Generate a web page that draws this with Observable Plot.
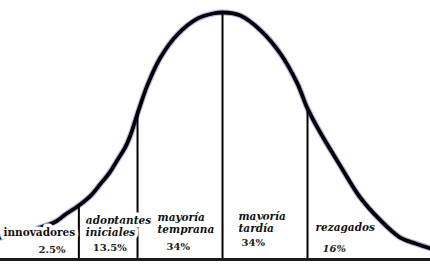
<!DOCTYPE html>
<html><head><meta charset="utf-8">
<script src="https://cdn.jsdelivr.net/npm/d3@7"></script>
<script src="https://cdn.jsdelivr.net/npm/@observablehq/plot@0.6"></script>
<style>html,body{margin:0;padding:0;background:#fff;overflow:hidden}</style>
</head><body><div id="chart"></div>
<script>
// Adoption curve: t in standard deviations from the mean, density as % of peak
const curveT = [-2.61,-2.47,-2.32,-2.14,-1.96,-1.85,-1.69,-1.55,-1.44,-1.32,-1.24,-1.14,-1.08,-1.00,-0.88,-0.73,-0.53,-0.29,-0.11,0,0.21,0.45,0.68,0.88,1.00,1.15,1.39,1.62,1.86,2.09,2.27,2.45];
const curveD = [8.9,10.1,11.3,13.0,15.4,18.2,21.9,25.9,30.4,35.6,40.1,45.7,50.6,59.1,70.9,81.8,91.1,97.6,99.6,100,98.8,92.7,83.4,71.3,61.1,51.4,37.7,25.1,15.8,8.9,6.5,4.5];
const tRange = [-2.612, 2.447];

// Category boundaries and the curve height where each divider meets it
const boundaryT = [-1.69, -1.00, 0, 1.00];
const boundaryTop = [21.9, 60.3, 100, 61.1];

// Categories
const categories = ["innovadores", "adoptantes\niniciales", "mayoría\ntemprana", "mayoría\ntardía", "rezagados"];
const shares = ["2.5%", "13.5%", "34%", "34%", "16%"];

const curve = curveT.map((t, i) => ({t, d: curveD[i]}));
const dividers = boundaryT.map((t, i) => ({t, top: boundaryTop[i]}));
const segStart = [tRange[0], ...boundaryT];
const groups = categories.map((name, i) => ({name, share: shares[i], t: segStart[i], i}));

// label styling (offsets in px relative to segment start / baseline)
const nameDx = [3, 7, 20, 16, 8];
const nameDy = [-24, -24, -27, -28, -29];
const nameItalic = [false, true, true, true, true];
const shareDx = [38, 14, 29, 19, 15];
const shareDy = [-7, -9, -10, -14, -8];
const shareItalic = [false, false, false, false, true];

const font = "DejaVu Serif";
const marks = [
  Plot.line(curve, {x: "t", y: "d", curve: "catmull-rom", stroke: "#3030c8", strokeWidth: 6, strokeOpacity: 0.35}),
  Plot.line(curve, {x: "t", y: "d", curve: "catmull-rom", stroke: "#000", strokeWidth: 3.8}),
  Plot.ruleX(dividers, {x: "t", y1: 0, y2: "top", stroke: "#000", strokeWidth: 2}),
  Plot.ruleY([0], {stroke: "#1a1a1a", strokeWidth: 3})
];
groups.forEach((g, i) => {
  marks.push(Plot.text([g], {x: "t", y: 0, text: "name", textAnchor: "start", lineAnchor: "bottom",
    dx: nameDx[i], dy: nameDy[i], fontFamily: font, fontWeight: "bold", fontStyle: nameItalic[i] ? "italic" : "normal",
    fontSize: 10.5, lineHeight: 1.12, fill: "#111", stroke: "white", strokeWidth: 7}));
  marks.push(Plot.text([g], {x: "t", y: 0, text: "share", textAnchor: "start", lineAnchor: "bottom",
    dx: shareDx[i], dy: shareDy[i], fontFamily: font, fontWeight: "bold", fontStyle: shareItalic[i] ? "italic" : "normal",
    fontSize: 10, fill: "#222"}));
});

const chart = Plot.plot({
  width: 430, height: 267,
  marginLeft: 0, marginRight: 0, marginTop: 12, marginBottom: 8,
  x: {domain: tRange, axis: null},
  y: {domain: [0, 100], axis: null},
  style: {background: "white", overflow: "visible"},
  marks
});
document.getElementById("chart").appendChild(chart);
</script>
</body></html>
